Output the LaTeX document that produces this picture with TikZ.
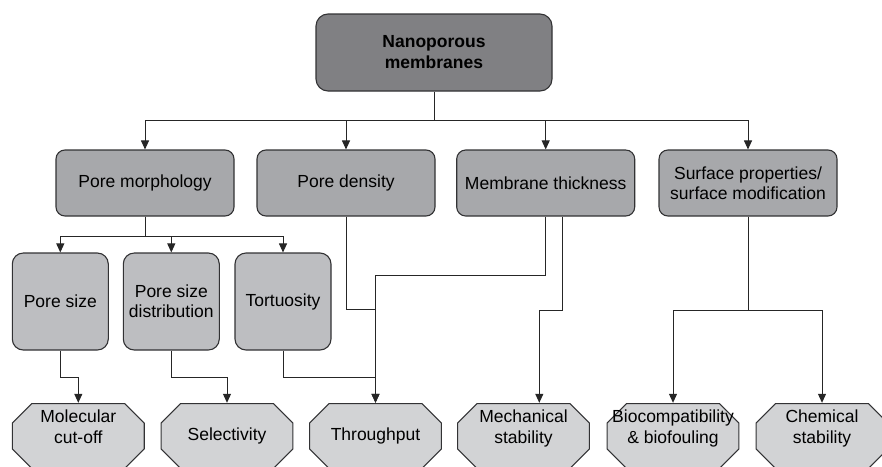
\documentclass[tikz,border=0pt]{standalone}
\usepackage{fontspec}
\setmainfont{Liberation Sans}
\usetikzlibrary{arrows.meta}

\definecolor{edge}{RGB}{50,50,52}
\definecolor{topgray}{RGB}{128,128,131}
\definecolor{maingray}{RGB}{167,168,171}
\definecolor{subgray}{RGB}{189,190,193}
\definecolor{resgray}{RGB}{210,211,213}

\begin{document}
\begin{tikzpicture}[x=1pt,y=-1pt,
    box/.style={draw=edge,line width=1.1pt,rounded corners=9pt,align=center,
      inner sep=2pt,font=\fontsize{17.5}{20}\selectfont},
    head/.style={box,fill=topgray,minimum width=236pt,minimum height=77pt,
      rounded corners=12pt,font=\fontsize{17.5}{21}\selectfont\bfseries},
    main/.style={box,fill=maingray,minimum width=178pt,minimum height=66pt},
    sub/.style={box,fill=subgray,minimum width=96pt,minimum height=97pt,
      rounded corners=11pt},
    res/.style={fill=white,minimum width=133pt,minimum height=66pt,
      inner sep=2pt,align=center,font=\fontsize{17.5}{21}\selectfont,
      path picture={
        \filldraw[fill=resgray,draw=edge,line width=1.1pt]
          ([xshift=20pt,yshift=-.6pt]path picture bounding box.north west)
          -- ([xshift=-20pt,yshift=-.6pt]path picture bounding box.north east)
          -- ([xshift=-.6pt,yshift=-20pt]path picture bounding box.north east)
          -- ([xshift=-.6pt,yshift=20pt]path picture bounding box.south east)
          -- ([xshift=-20pt,yshift=.6pt]path picture bounding box.south east)
          -- ([xshift=20pt,yshift=.6pt]path picture bounding box.south west)
          -- ([xshift=.6pt,yshift=20pt]path picture bounding box.south west)
          -- ([xshift=.6pt,yshift=-20pt]path picture bounding box.north west)
          -- cycle;}},
    two/.style={text depth=19pt},
    conn/.style={line width=1pt,draw=black!85},
    arr/.style={conn,-{Triangle[width=8pt,length=9pt]}}]

      \useasboundingbox (0,0) rectangle (882,466);
      \clip (0,0) rectangle (882,466);

      % top
      \node[head] (nano) at (434,52.5) {Nanoporous\\membranes};

      % row1
      \node[main] (pm) at (145,183) {Pore morphology};
      \node[main] (pd) at (346,183) {Pore density};
      \node[main] (mt) at (545.7,183) {Membrane thickness};
      \node[main] (sp) at (748,183) {Surface properties/\\surface modification};

      % row2
      \node[sub] (ps) at (60.3,301.5) {Pore size};
      \node[sub] (psd) at (171.3,301.5) {Pore size\\distribution};
      \node[sub] (tor) at (283,301.5) {Tortuosity};

      % results
      \node[res,two] (mc) at (78.3,436) {Molecular\\cut-off};
      \node[res] (sel) at (227,436) {Selectivity};
      \node[res] (thr) at (375.5,436) {Throughput};
      \node[res,two] (mech) at (523.5,436) {Mechanical\\stability};
      \node[res,two] (bio) at (673,436) {Biocompatibility\\\& biofouling};
      \node[res,two] (chem) at (822,436) {Chemical\\stability};

      % top links
      \draw[conn] (nano.south) -- ++(0,29) coordinate (jtop);
      \foreach \n in {pm,pd,mt,sp}
      { \draw[arr] (jtop) -| (\n.north); }

      % morphology links
      \foreach \n in {ps,psd,tor}
      { \draw[arr] (pm.south) -- ++(0,19.7) -| (\n.north); }
      \draw[arr] (ps.south) -- ++(0,27) -| (mc.north);
      \draw[arr] (psd.south) -- ++(0,27) -| (sel.north);
      \draw[arr] (tor.south) -- ++(0,27) -| (thr.north);

      % throughput and stability
      \path (thr.north) ++(0,-93) coordinate (jpd);
      \draw[conn] (pd.south) |- (jpd);
      \draw[arr] (mt.south) -- ++(0,59) -| (thr.north);
      \draw[arr] ([xshift=16.6pt]mt.south) -- ++(0,94) -| ([xshift=15.8pt]mech.north);

      % surface
      \draw[arr] (sp.south) -- ++(0,94) -| (bio.north);
      \draw[arr] (sp.south) -- ++(0,94) -| (chem.north);
    \end{tikzpicture}
\end{document}
